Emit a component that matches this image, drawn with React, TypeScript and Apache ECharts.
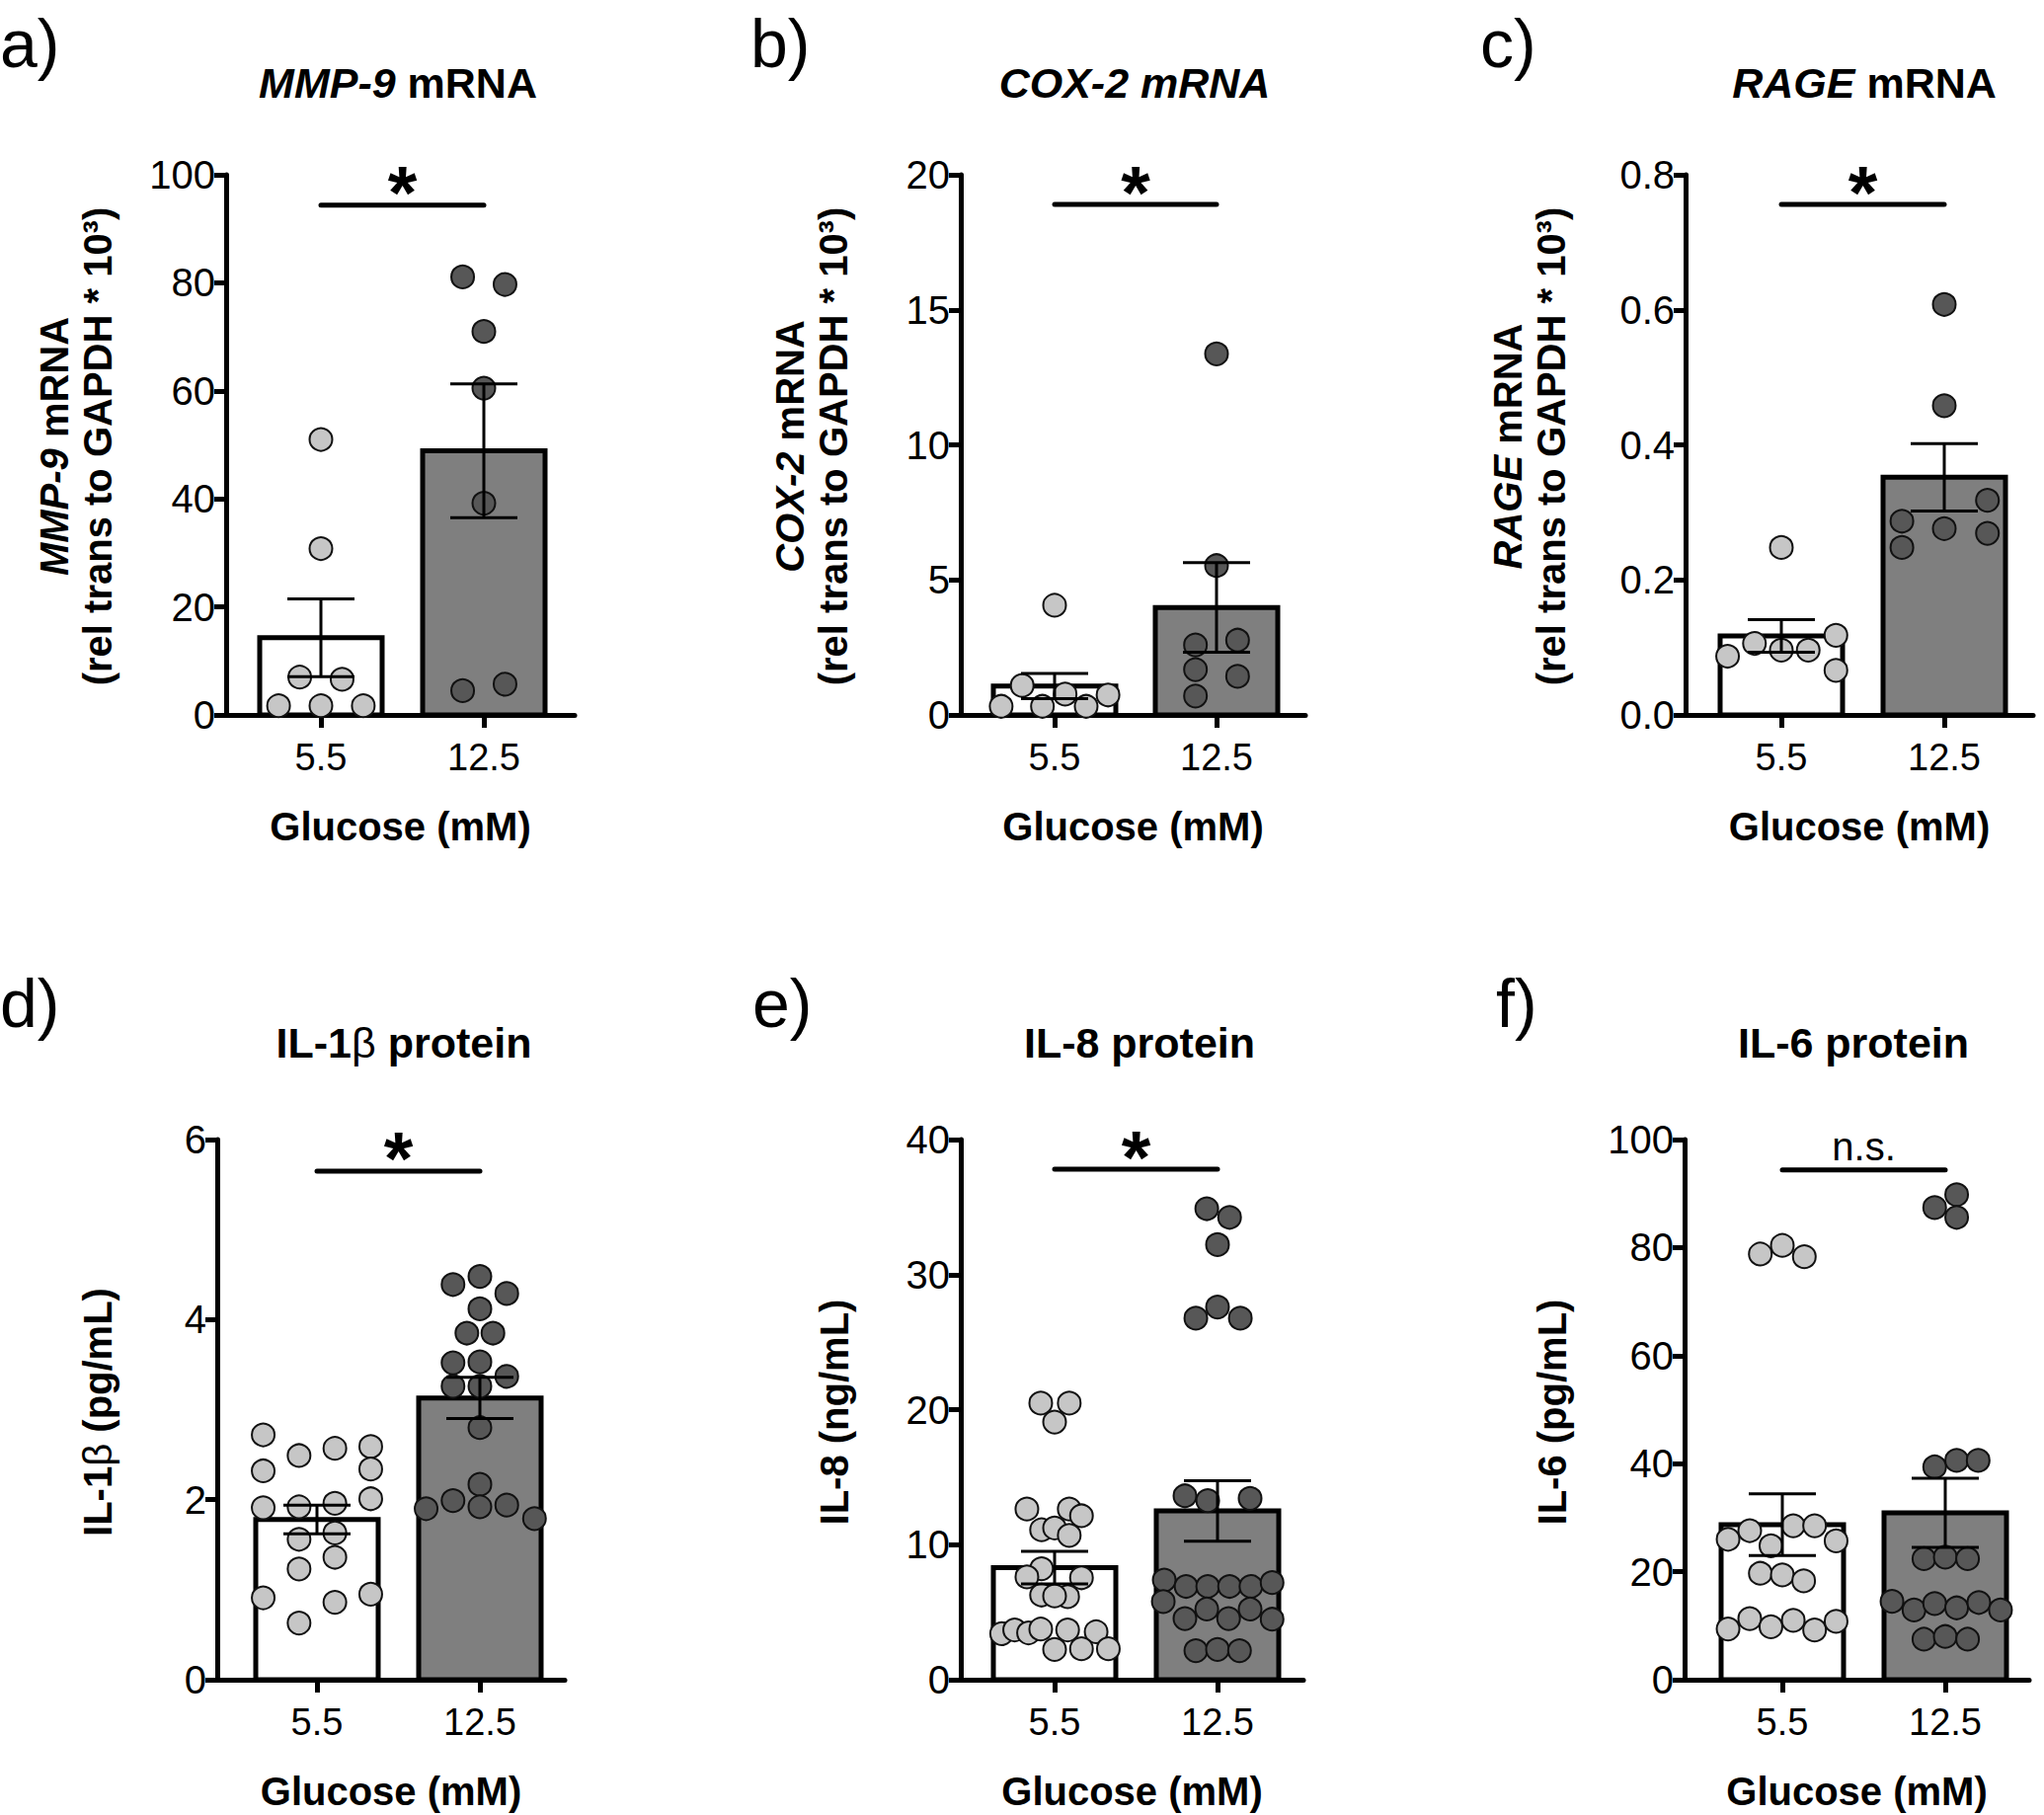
import React, { useEffect, useRef } from 'react';
import * as echarts from 'echarts';

const FONT = "'Liberation Sans', Arial, Helvetica, sans-serif";

// categories (glucose, mM)
const glucoseLevels = ['5.5', '12.5'];

// a) MMP-9 mRNA
const mmp9Low = [51.0, 30.8, 7.0, 6.6, 1.7, 1.7, 1.7];
const mmp9LowJitter = [0, 0, -0.13, 0.13, -0.26, 0, 0.26];
const mmp9High = [81.1, 79.7, 71.0, 60.5, 39.2, 4.5, 5.7];
const mmp9HighJitter = [-0.13, 0.13, 0, 0, 0, -0.13, 0.13];
const mmp9Mean = [14.3, 48.9];
const mmp9Sem = [7.2, 12.4];

// b) COX-2 mRNA
const cox2Low = [4.06, 1.09, 0.77, 0.74, 0.32, 0.32, 0.32];
const cox2LowJitter = [0, -0.2, 0.065, 0.33, -0.33, -0.075, 0.195];
const cox2High = [13.37, 5.53, 2.59, 2.77, 1.68, 1.43, 0.7];
const cox2HighJitter = [0, 0, -0.13, 0.13, -0.13, 0.13, -0.13];
const cox2Mean = [1.07, 3.98];
const cox2Sem = [0.47, 1.66];

// c) RAGE mRNA
const rageLow = [0.248, 0.087, 0.106, 0.096, 0.096, 0.118, 0.066];
const rageLowJitter = [0, -0.33, -0.165, 0, 0.165, 0.335, 0.335];
const rageHigh = [0.608, 0.458, 0.318, 0.287, 0.276, 0.269, 0.248];
const rageHighJitter = [0, 0, 0.265, -0.26, 0, 0.265, -0.26];
const rageMean = [0.117, 0.352];
const rageSem = [0.024, 0.05];

// d) IL-1β protein
const il1bLow = [2.72, 2.49, 2.57, 2.59, 2.32, 2.34, 1.91, 1.92, 1.96, 2.01, 1.56, 1.63, 1.36, 1.23, 0.91, 0.95, 0.86, 0.63];
const il1bLowJitter = [-0.33, -0.11, 0.11, 0.33, -0.33, 0.33, -0.33, -0.11, 0.11, 0.33, -0.11, 0.11, 0.11, -0.11, -0.33, 0.33, 0.11, -0.11];
const il1bHigh = [4.39, 4.48, 4.29, 4.12, 3.85, 3.85, 3.52, 3.53, 3.37, 3.26, 3.26, 2.8, 2.17, 1.9, 1.99, 1.92, 1.94, 1.79];
const il1bHighJitter = [-0.165, 0, 0.165, 0, -0.08, 0.08, -0.165, 0, 0.165, -0.165, 0, 0, 0, -0.33, -0.165, 0, 0.165, 0.335];
const il1bMean = [1.78, 3.13];
const il1bSem = [0.16, 0.23];

// e) IL-8 protein
const il8Low = [20.48, 20.48, 19.08, 12.64, 12.64, 12.14, 11.1, 11.24, 10.69, 8.22, 7.61, 7.55, 6.27, 6.15, 6.2, 3.41, 3.69, 3.47, 3.75, 3.69, 3.55, 2.24, 2.29, 2.29];
const il8LowJitter = [-0.085, 0.09, 0, -0.17, 0.09, 0.165, -0.08, 0, 0.09, -0.08, -0.17, 0.165, -0.08, 0.08, 0, -0.325, -0.245, -0.16, -0.085, 0.08, 0.255, 0, 0.165, 0.33];
const il8High = [34.88, 34.24, 32.22, 27.6, 26.77, 26.77, 13.62, 13.26, 13.43, 7.38, 6.91, 6.91, 6.91, 6.91, 7.19, 5.79, 4.53, 5.23, 4.53, 5.23, 4.48, 2.15, 2.24, 2.15];
const il8HighJitter = [-0.066, 0.074, 0, 0, -0.133, 0.14, -0.2, -0.06, 0.2, -0.327, -0.193, -0.06, 0.074, 0.205, 0.335, -0.333, -0.2, -0.066, 0.068, 0.2, 0.335, -0.133, 0, 0.135];
const il8Mean = [8.3, 12.5];
const il8Sem = [1.2, 2.24];

// f) IL-6 protein
const il6Low = [78.8, 80.4, 78.3, 26.0, 27.6, 24.8, 28.5, 28.5, 25.7, 19.7, 19.4, 18.3, 9.4, 11.3, 9.8, 11.0, 9.2, 10.8];
const il6LowJitter = [-0.135, 0, 0.135, -0.333, -0.2, -0.07, 0.067, 0.198, 0.33, -0.135, 0, 0.131, -0.333, -0.2, -0.07, 0.067, 0.198, 0.33];
const il6High = [89.8, 87.4, 85.6, 39.4, 40.6, 40.6, 22.4, 22.7, 22.4, 14.5, 12.9, 14.1, 13.3, 14.3, 12.9, 7.5, 8.0, 7.5];
const il6HighJitter = [0.07, -0.065, 0.07, -0.065, 0.07, 0.202, -0.131, 0, 0.137, -0.327, -0.192, -0.065, 0.07, 0.206, 0.339, -0.131, 0, 0.137];
const il6Mean = [28.7, 30.9];
const il6Sem = [5.7, 6.4];

// axes & annotations
const yMaxes = [100, 20, 0.8, 6, 40, 100];
const yIntervals = [20, 5, 0.2, 2, 10, 20];
const yDecimals = [0, 0, 1, 0, 0, 0];
const sigLevels = [94.4, 18.9, 0.756, 5.65, 37.8, 94.4];
const sigLabels = ['*', '*', '*', '*', '*', 'n.s.'];
const panelLetters = ['a)', 'b)', 'c)', 'd)', 'e)', 'f)'];
const panelTitles = [
  '{bi|MMP-9}{b| mRNA}',
  '{bi|COX-2 mRNA}',
  '{bi|RAGE}{b| mRNA}',
  '{b|IL-1}{beta|β}{b| protein}',
  '{b|IL-8 protein}',
  '{b|IL-6 protein}',
];
const yNames = [
  '{bi|MMP-9}{b| mRNA}\n{b|(rel trans to GAPDH * 10³)}',
  '{bi|COX-2}{b| mRNA}\n{b|(rel trans to GAPDH * 10³)}',
  '{bi|RAGE}{b| mRNA}\n{b|(rel trans to GAPDH * 10³)}',
  '{b|IL-1}{beta|β}{b| (pg/mL)}',
  '{b|IL-8 (ng/mL)}',
  '{b|IL-6 (pg/mL)}',
];
const xName = 'Glucose (mM)';

const lows = [mmp9Low, cox2Low, rageLow, il1bLow, il8Low, il6Low];
const lowJit = [mmp9LowJitter, cox2LowJitter, rageLowJitter, il1bLowJitter, il8LowJitter, il6LowJitter];
const highs = [mmp9High, cox2High, rageHigh, il1bHigh, il8High, il6High];
const highJit = [mmp9HighJitter, cox2HighJitter, rageHighJitter, il1bHighJitter, il8HighJitter, il6HighJitter];
const means = [mmp9Mean, cox2Mean, rageMean, il1bMean, il8Mean, il6Mean];
const sems = [mmp9Sem, cox2Sem, rageSem, il1bSem, il8Sem, il6Sem];

// layout (pixels)
const PLOT_H = 547;
const LAYOUT = [
  { axisX: 229, c1: 325, c2: 490, end: 582, top: 177 },
  { axisX: 973, c1: 1068, c2: 1232, end: 1322, top: 177 },
  { axisX: 1707, c1: 1804, c2: 1969, end: 2059, top: 177 },
  { axisX: 220, c1: 321, c2: 486, end: 572, top: 1154 },
  { axisX: 973, c1: 1068, c2: 1233, end: 1320, top: 1154 },
  { axisX: 1706, c1: 1805, c2: 1970, end: 2055, top: 1154 },
];
const LETTER_POS = [
  { x: 0, y: 10 }, { x: 760, y: 10 }, { x: 1499, y: 10 },
  { x: 0, y: 982 }, { x: 762, y: 982 }, { x: 1515, y: 982 },
];
const TITLE_POS = [
  { x: 403, y: 84 }, { x: 1149, y: 84 }, { x: 1888, y: 84 },
  { x: 409, y: 1056 }, { x: 1154, y: 1056 }, { x: 1877, y: 1056 },
];
const YNAME_POS = [
  { x: 77, y: 452 }, { x: 822, y: 452 }, { x: 1549, y: 452 },
  { x: 99, y: 1430 }, { x: 845, y: 1430 }, { x: 1572, y: 1430 },
];

const BAR_W = 124;
const CAP_HW = 34;
const LIGHT = '#c6c6c6';
const DARK = '#575757';
const BAR_DARK = '#7f7f7f';

const richStyles = (size: number, lh: number) => ({
  b: { fontFamily: FONT, fontWeight: 'bold', fontSize: size, color: '#000', lineHeight: lh },
  bi: { fontFamily: FONT, fontWeight: 'bold', fontStyle: 'italic', fontSize: size, color: '#000', lineHeight: lh },
  beta: { fontFamily: FONT, fontWeight: 'normal', fontSize: size, color: '#000', lineHeight: lh },
});

function buildOption() {
  const grid: any[] = [];
  const xAxis: any[] = [];
  const yAxis: any[] = [];
  const series: any[] = [];
  const graphic: any[] = [];

  for (let i = 0; i < 6; i++) {
    const L = LAYOUT[i];
    const sp = L.c2 - L.c1;
    grid.push({ left: L.axisX, top: L.top, width: L.end - L.axisX, height: PLOT_H, containLabel: false });
    xAxis.push({
      type: 'value',
      gridIndex: i,
      min: 1 - (L.c1 - L.axisX) / sp,
      max: 2 + (L.end - L.c2) / sp,
      axisLine: { show: true, onZero: false, lineStyle: { color: '#000', width: 5 } },
      axisTick: { show: true, customValues: [1, 2], length: 13, lineStyle: { color: '#000', width: 5 } },
      axisLabel: {
        show: true,
        customValues: [1, 2],
        formatter: (v: number) => glucoseLevels[Math.round(v) - 1] ?? '',
        fontSize: 38, color: '#000', fontFamily: FONT, margin: 24,
      },
      splitLine: { show: false },
      name: xName,
      nameLocation: 'middle',
      nameGap: 93,
      nameTextStyle: { fontSize: 40, fontWeight: 'bold', fontFamily: FONT, color: '#000' },
    });
    const dec = yDecimals[i];
    yAxis.push({
      type: 'value',
      gridIndex: i,
      min: 0,
      max: yMaxes[i],
      interval: yIntervals[i],
      axisLine: { show: true, onZero: false, lineStyle: { color: '#000', width: 5 } },
      axisTick: { show: true, length: 12, lineStyle: { color: '#000', width: 5 } },
      axisLabel: {
        fontSize: 40, color: '#000', fontFamily: FONT, margin: 11,
        formatter: (v: number) => v.toFixed(dec),
      },
      splitLine: { show: false },
    });

    // bars (means)
    series.push({
      type: 'custom', xAxisIndex: i, yAxisIndex: i, silent: true, z: 1,
      data: means[i].map((m, k) => [k + 1, m]),
      renderItem: (params: any, api: any) => {
        const x = api.value(0);
        const y = api.value(1);
        const base = api.coord([x, 0]);
        const top = api.coord([x, y]);
        return {
          type: 'rect',
          shape: { x: base[0] - BAR_W / 2, y: top[1], width: BAR_W, height: base[1] - top[1] },
          style: { fill: params.dataIndex === 0 ? '#ffffff' : BAR_DARK, stroke: '#000', lineWidth: 5 },
        };
      },
    });
    // individual points
    series.push({
      type: 'scatter', xAxisIndex: i, yAxisIndex: i, silent: true, z: 3,
      symbol: 'circle', symbolSize: 23,
      itemStyle: { color: LIGHT, borderColor: '#111', borderWidth: 2, opacity: 1 },
      data: lows[i].map((v, k) => [1 + lowJit[i][k], v]),
    });
    series.push({
      type: 'scatter', xAxisIndex: i, yAxisIndex: i, silent: true, z: 3,
      symbol: 'circle', symbolSize: 23,
      itemStyle: { color: DARK, borderColor: '#111', borderWidth: 2, opacity: 1 },
      data: highs[i].map((v, k) => [2 + highJit[i][k], v]),
    });
    // SEM error bars
    series.push({
      type: 'custom', xAxisIndex: i, yAxisIndex: i, silent: true, z: 4,
      data: means[i].map((m, k) => [k + 1, m, sems[i][k]]),
      renderItem: (params: any, api: any) => {
        const x = api.value(0);
        const m = api.value(1);
        const s = api.value(2);
        const t = api.coord([x, m + s]);
        const b = api.coord([x, m - s]);
        const st = { stroke: '#000', lineWidth: 3 };
        return {
          type: 'group',
          children: [
            { type: 'line', shape: { x1: t[0], y1: t[1], x2: b[0], y2: b[1] }, style: st },
            { type: 'line', shape: { x1: t[0] - CAP_HW, y1: t[1], x2: t[0] + CAP_HW, y2: t[1] }, style: st },
            { type: 'line', shape: { x1: b[0] - CAP_HW, y1: b[1], x2: b[0] + CAP_HW, y2: b[1] }, style: st },
          ],
        };
      },
    });
    // significance bracket
    const lbl = sigLabels[i];
    series.push({
      type: 'custom', xAxisIndex: i, yAxisIndex: i, silent: true, z: 4,
      data: [[1, 2, sigLevels[i]]],
      renderItem: (params: any, api: any) => {
        const p1 = api.coord([api.value(0), api.value(2)]);
        const p2 = api.coord([api.value(1), api.value(2)]);
        const isStar = lbl === '*';
        return {
          type: 'group',
          children: [
            { type: 'line', shape: { x1: p1[0], y1: p1[1], x2: p2[0], y2: p2[1] }, style: { stroke: '#000', lineWidth: 5, lineCap: 'round' } },
            {
              type: 'text',
              x: (p1[0] + p2[0]) / 2,
              y: p1[1] - (isStar ? 13 : 24),
              style: {
                text: lbl,
                fontFamily: FONT,
                fontWeight: isStar ? 'bold' : 'normal',
                fontSize: isStar ? 76 : 40,
                fill: '#000',
                align: 'center',
                verticalAlign: 'middle',
              },
            },
          ],
        };
      },
    });

    graphic.push({
      type: 'text', x: LETTER_POS[i].x, y: LETTER_POS[i].y, silent: true,
      style: { text: panelLetters[i], fontFamily: FONT, fontSize: 68, fill: '#000', align: 'left', verticalAlign: 'top' },
    });
    graphic.push({
      type: 'text', x: TITLE_POS[i].x, y: TITLE_POS[i].y, silent: true,
      style: { text: panelTitles[i], rich: richStyles(43, 50), align: 'center', verticalAlign: 'middle' },
    });
    graphic.push({
      type: 'text', x: YNAME_POS[i].x, y: YNAME_POS[i].y, rotation: Math.PI / 2, silent: true,
      style: { text: yNames[i], rich: richStyles(40, 44), align: 'center', verticalAlign: 'middle' },
    });
  }

  return {
    animation: false,
    backgroundColor: '#ffffff',
    grid,
    xAxis,
    yAxis,
    series,
    graphic,
  };
}

export default function App() {
  const ref = useRef<HTMLDivElement>(null);
  useEffect(() => {
    const chart = echarts.init(ref.current as HTMLDivElement, undefined, { renderer: 'svg' });
    chart.setOption(buildOption() as any);
    return () => chart.dispose();
  }, []);
  return (
    <div
      ref={ref}
      style={{ position: 'absolute', left: 0, top: 0, width: 2070, height: 1838, background: '#fff' }}
    />
  );
}
